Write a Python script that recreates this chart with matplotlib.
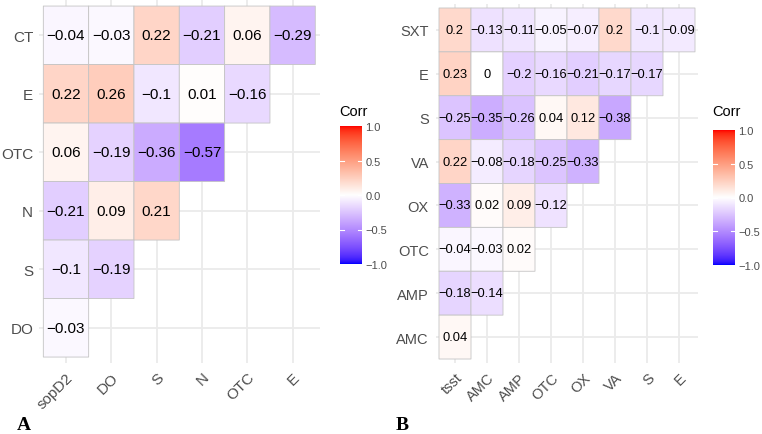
import numpy as np
import matplotlib
matplotlib.use("Agg")
import matplotlib.pyplot as plt
from matplotlib.colors import ListedColormap
from matplotlib.transforms import ScaledTranslation

# ---------------- data ----------------
a_cols = ["sopD2", "DO", "S", "N", "OTC", "E"]
a_rows = ["CT", "E", "OTC", "N", "S", "DO"]
a_vals = [
    [-0.04, -0.03, 0.22, -0.21, 0.06, -0.29],
    [0.22, 0.26, -0.1, 0.01, -0.16],
    [0.06, -0.19, -0.36, -0.57],
    [-0.21, 0.09, 0.21],
    [-0.1, -0.19],
    [-0.03],
]

b_cols = ["tsst", "AMC", "AMP", "OTC", "OX", "VA", "S", "E"]
b_rows = ["SXT", "E", "S", "VA", "OX", "OTC", "AMP", "AMC"]
b_vals = [
    [0.2, -0.13, -0.11, -0.05, -0.07, 0.2, -0.1, -0.09],
    [0.23, 0, -0.2, -0.16, -0.21, -0.17, -0.17],
    [-0.25, -0.35, -0.26, 0.04, 0.12, -0.38],
    [0.22, -0.08, -0.18, -0.25, -0.33],
    [-0.33, 0.02, 0.09, -0.12],
    [-0.04, -0.03, 0.02],
    [-0.18, -0.14],
    [0.04],
]

legend_ticks = [-1.0, -0.5, 0.0, 0.5, 1.0]
legend_title = "Corr"

plt.rcParams["font.family"] = ["Liberation Sans", "DejaVu Sans"]

# ---------------- Lab colour gradient (blue - white - red) ----------------
M = np.array([[0.4124564, 0.3575761, 0.1804375],
              [0.2126729, 0.7151522, 0.0721750],
              [0.0193339, 0.1191920, 0.9503041]])
WP = np.array([0.95047, 1.0, 1.08883])


def _lin(c):
    return np.where(c <= 0.04045, c / 12.92, ((c + 0.055) / 1.055) ** 2.4)


def _gam(c):
    c = np.clip(c, 0, 1)
    return np.where(c <= 0.0031308, 12.92 * c, 1.055 * c ** (1 / 2.4) - 0.055)


def _f(t):
    d = 6 / 29
    return np.where(t > d ** 3, np.cbrt(t), t / (3 * d * d) + 4 / 29)


def _finv(t):
    d = 6 / 29
    return np.where(t > d, t ** 3, 3 * d * d * (t - 4 / 29))


def rgb2lab(rgb):
    xyz = (_lin(np.asarray(rgb, float)) @ M.T) / WP
    fx, fy, fz = _f(xyz[..., 0]), _f(xyz[..., 1]), _f(xyz[..., 2])
    return np.stack([116 * fy - 16, 500 * (fx - fy), 200 * (fy - fz)], -1)


def lab2rgb(lab):
    L, a, b = lab[..., 0], lab[..., 1], lab[..., 2]
    fy = (L + 16) / 116
    fx = fy + a / 500
    fz = fy - b / 200
    xyz = np.stack([_finv(fx), _finv(fy), _finv(fz)], -1) * WP
    return _gam(xyz @ np.linalg.inv(M).T)


lab_b = rgb2lab([0, 0, 1])
lab_w = rgb2lab([1, 1, 1])
lab_r = rgb2lab([1, 0, 0])
vv = np.linspace(-1, 1, 513)
labs = np.where(vv[:, None] < 0,
                lab_w + (-vv[:, None]) * (lab_b - lab_w),
                lab_w + vv[:, None] * (lab_r - lab_w))
cmap = ListedColormap(np.clip(lab2rgb(labs), 0, 1))

# ---------------- figure ----------------
W, H = 762, 435
fig = plt.figure(figsize=(W / 100, H / 100), dpi=100)


def px_axes(x0, y0, x1, y1):
    return fig.add_axes([x0 / W, 1 - y1 / H, (x1 - x0) / W, (y1 - y0) / H])


GRID = "#EBEBEB"
TICKC = "#4D4D4D"


def fmt(v):
    return f"{v:g}".replace("-", "\u2212")


def heat(ax, cols, rows, vals, cell_fs, tick_fs, xoff, ypad):
    n_c, n_r = len(cols), len(rows)
    data = np.full((n_r, n_c), np.nan)
    for i, r in enumerate(vals):
        data[i, :len(r)] = r
    ax.set_xlim(-0.6, n_c - 0.4)
    ax.set_ylim(n_r - 0.4, -0.6)
    for k in range(n_c):
        ax.axvline(k, color=GRID, lw=1.3, zorder=0)
    for k in range(n_r):
        ax.axhline(k, color=GRID, lw=1.3, zorder=0)
    xe = np.arange(n_c + 1) - 0.5
    ye = np.arange(n_r + 1) - 0.5
    ax.pcolor(xe, ye, np.ma.masked_invalid(data), cmap=cmap, vmin=-1, vmax=1,
              edgecolors="#C4C4C4", linewidth=0.6, zorder=1)
    for i, r in enumerate(vals):
        for j, v in enumerate(r):
            ax.text(j, i, fmt(v), ha="center", va="center", fontsize=cell_fs,
                    color="black", zorder=3)
    for s in ax.spines.values():
        s.set_visible(False)
    ax.set_xticks(range(n_c))
    ax.set_yticks(range(n_r))
    ax.set_yticklabels(rows, fontsize=tick_fs, color=TICKC)
    labels = ax.set_xticklabels(cols, fontsize=tick_fs, color=TICKC, rotation=45,
                                ha="right", va="top", rotation_mode="anchor")
    off = ScaledTranslation(xoff[0] / 72, xoff[1] / 72, fig.dpi_scale_trans)
    for t in labels:
        t.set_transform(t.get_transform() + off)
    ax.tick_params(axis="y", length=0, pad=ypad)
    ax.tick_params(axis="x", length=0, pad=5)
    ax.set_facecolor("white")


def colorbar(x0, y0, x1, y1, tx, ty):
    cax = px_axes(x0, y0, x1, y1)
    grad = np.linspace(-1, 1, 300)[:, None]
    cax.imshow(grad, cmap=cmap, vmin=-1, vmax=1, aspect="auto", origin="lower",
               extent=[0, 1, -1, 1])
    cax.set_xlim(0, 1)
    cax.set_ylim(-1, 1)
    for v in legend_ticks[1:-1]:
        cax.plot([0, 0.2], [v, v], color="white", lw=0.8)
        cax.plot([0.8, 1], [v, v], color="white", lw=0.8)
    cax.set_xticks([])
    cax.set_yticks(legend_ticks)
    cax.set_yticklabels([f"{v:.1f}".replace("-", "\u2212") for v in legend_ticks],
                        fontsize=8, color=TICKC)
    cax.yaxis.tick_right()
    cax.tick_params(length=0, pad=2.5)
    for s in cax.spines.values():
        s.set_visible(False)
    fig.text(tx / W, 1 - ty / H, legend_title, fontsize=10.5, color="black",
             ha="left", va="baseline")


# Panel A
axA = px_axes(38.8, 1.2, 319.8, 363.9)
heat(axA, a_cols, a_rows, a_vals, cell_fs=11, tick_fs=11, xoff=(6, -5), ypad=4)
colorbar(340, 127, 362, 265, 339, 116)

# Panel B
axB = px_axes(435.8, 4.6, 698.2, 364.4)
heat(axB, b_cols, b_rows, b_vals, cell_fs=9.3, tick_fs=10.5, xoff=(5, -5), ypad=5)
colorbar(713, 131, 735, 266, 712, 116)

# Panel letters
fig.text(17 / W, 1 - 430 / H, "A", fontsize=14, fontweight="bold",
         family=["Liberation Serif", "DejaVu Serif"], ha="left", va="baseline")
fig.text(396 / W, 1 - 430 / H, "B", fontsize=14, fontweight="bold",
         family=["Liberation Serif", "DejaVu Serif"], ha="left", va="baseline")

fig.savefig("out.png", dpi=100, facecolor="white")
